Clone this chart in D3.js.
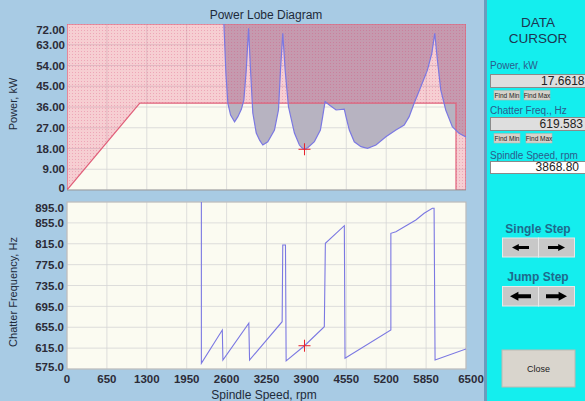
<!DOCTYPE html>
<html><head><meta charset="utf-8">
<script src="https://cdn.jsdelivr.net/npm/d3@7"></script>
<style>html,body{margin:0;padding:0;background:#a8cbe4;}svg{display:block;font-family:"Liberation Sans",Arial,sans-serif;}</style>
</head><body>
<svg id="c" width="585" height="401"></svg>
<script>
// ---- data ----
const rpmTicks = [0,650,1300,1950,2600,3250,3900,4550,5200,5850,6500];
const powerTicks = [0,9,18,27,36,45,54,63,72];
const powerTickLabels = ["0","9.00","18.00","27.00","36.00","45.00","54.00","63.00","72.00"];
const freqTicks = [575,615,655,695,735,775,815,855,895];
const freqTickLabels = ["575.0","615.0","655.0","695.0","735.0","775.0","815.0","855.0","895.0"];

const limitRpm = [0,1186,6337,6337];
const limitKw  = [0,37.7,37.7,0];

const lobeRpm = [2545,2556,2590,2621,2665,2730,2784,2840,2881,2920,2958,2990,3027,3083,3140,3190,3271,3380,3445,3478,3515,3554,3608,3705,3786,3830,3868.8,3921,4030,4128,4165,4204,4274,4383,4517,4545,4599,4680,4789,4896,5033,5195,5358,5493,5574,5655,5764,5871,5943,5991,6034,6089,6170,6277,6386,6500];
const lobeKw  = [80,72,50,37.6,32.5,29.6,31.8,35,39.0,52.0,70.1,52.0,33.4,24.7,21.5,19.5,20.9,26.0,34.7,52.0,68.0,52.0,36.1,24.7,19.5,18.2,17.66,18.3,21.0,26.0,31.8,38.3,36.9,34.7,35.1,31.8,26.0,20.9,18.8,18.1,19.5,23.1,26.0,28.2,31.8,37.6,44.8,52.0,59.3,68.0,56.4,43.4,34.7,27.5,24.6,23.0];

const freqRpm = [2189,2189,2530,2540,2962,2974,3505,3515,3559,3570,3868.8,4192,4209,4518,4529,5276,5276,5358,5683,5818,5952,5980,5996,6500];
const freqHz  = [960,585.9,649.7,592.2,662.6,592.2,665.6,812.6,812.6,590.5,619.6,656,815.8,849.6,595.5,649.7,835,838,860.5,873.3,882.9,882.9,592.2,613.5];

const cursorRpm = 3868.8, cursorKw = 17.6618, cursorHz = 619.583;
const panelValues = ["17.6618","619.583","3868.80"];

// ---- layout ----
const svg = d3.select("#c");
const X0=67, X1=466;
const T={top:24,bottom:190}, B={top:202,bottom:369};
const x = d3.scaleLinear().domain([0,6500]).range([X0,X1]);
const yP = d3.scaleLinear().domain([0,72]).range([T.bottom,T.top]);
const yF = d3.scaleLinear().domain([575,895]).range([B.bottom,B.top]);

svg.append("rect").attr("width",585).attr("height",401).attr("fill","#a8cbe4");

const defs = svg.append("defs");
const pat = defs.append("pattern").attr("id","dots").attr("width",3).attr("height",3).attr("patternUnits","userSpaceOnUse");
pat.append("rect").attr("width",1).attr("height",1).attr("fill","rgba(215,60,110,0.28)");
defs.append("clipPath").attr("id","clipT").append("rect").attr("x",X0).attr("y",T.top).attr("width",X1-X0).attr("height",T.bottom-T.top);
defs.append("clipPath").attr("id","clipB").append("rect").attr("x",X0).attr("y",B.top).attr("width",X1-X0).attr("height",B.bottom-B.top);

// ---- top plot ----
const gT = svg.append("g").attr("clip-path","url(#clipT)");
gT.append("rect").attr("x",X0).attr("y",T.top).attr("width",X1-X0).attr("height",T.bottom-T.top).attr("fill","#fbfbf1");
gT.selectAll(".vg").data(rpmTicks).join("line").attr("x1",d=>x(d)).attr("x2",d=>x(d)).attr("y1",T.top).attr("y2",T.bottom).attr("stroke","#d6d6d6").attr("stroke-width",0.8);
gT.selectAll(".hg").data(powerTicks).join("line").attr("x1",X0).attr("x2",X1).attr("y1",d=>yP(d)).attr("y2",d=>yP(d)).attr("stroke","#d6d6d6").attr("stroke-width",0.8);

const lobe = lobeRpm.map((r,i)=>[r,lobeKw[i]]);
const area = d3.area().x(d=>x(d[0])).y0(yP(80)).y1(d=>yP(d[1]));
gT.append("path").datum(lobe).attr("d",area).attr("fill","#b7b3c1");

const limit = limitRpm.map((r,i)=>[r,limitKw[i]]);
const pinkPoly = limit.concat([[6500,0],[6500,72],[0,72]]);
const lineP = d3.line().x(d=>x(d[0])).y(d=>yP(d[1]));
gT.append("path").attr("d",lineP(pinkPoly)+"Z").attr("fill","rgba(235,90,130,0.28)");
gT.append("path").attr("d",lineP(pinkPoly)+"Z").attr("fill","url(#dots)");
gT.append("path").attr("d",lineP(pinkPoly)+"Z").attr("fill","none").attr("stroke","#e0607a").attr("stroke-width",1.2);
gT.append("path").datum(lobe).attr("d",lineP).attr("fill","none").attr("stroke","#7b78e2").attr("stroke-width",1.2);
svg.append("line").attr("x1",X0).attr("x2",X1).attr("y1",T.bottom).attr("y2",T.bottom).attr("stroke","#9a9a9a");

function cross(g,cx,cy){
  g.append("line").attr("x1",cx-6).attr("x2",cx+6).attr("y1",cy).attr("y2",cy).attr("stroke","#e8202c").attr("stroke-width",1);
  g.append("line").attr("x1",cx).attr("x2",cx).attr("y1",cy-6).attr("y2",cy+6).attr("stroke","#e8202c").attr("stroke-width",1);
}
cross(svg,x(cursorRpm),yP(cursorKw));

// ---- bottom plot ----
const gB = svg.append("g");
gB.append("rect").attr("x",X0).attr("y",B.top).attr("width",X1-X0).attr("height",B.bottom-B.top).attr("fill","#fbfbf1");
gB.selectAll(".vg").data(rpmTicks).join("line").attr("x1",d=>x(d)).attr("x2",d=>x(d)).attr("y1",B.top).attr("y2",B.bottom).attr("stroke","#d6d6d6").attr("stroke-width",0.8);
gB.selectAll(".hg").data(freqTicks).join("line").attr("x1",X0).attr("x2",X1).attr("y1",d=>yF(d)).attr("y2",d=>yF(d)).attr("stroke","#d6d6d6").attr("stroke-width",0.8);
gB.append("rect").attr("x",X0).attr("y",B.top).attr("width",X1-X0).attr("height",B.bottom-B.top).attr("fill","none").attr("stroke","#b0b0b0").attr("stroke-width",0.8);
const freq = freqRpm.map((r,i)=>[r,freqHz[i]]);
const lineF = d3.line().x(d=>x(d[0])).y(d=>yF(d[1]));
gB.append("path").datum(freq).attr("clip-path","url(#clipB)").attr("d",lineF).attr("fill","none").attr("stroke","#7b78e2").attr("stroke-width",1.1);
cross(svg,x(cursorRpm),yF(cursorHz));

// ---- axes text ----
const tickStyle = s=>s.attr("font-size","11.5px").attr("font-weight","bold").attr("fill","#2c2c38");
function clampY(y,top,bot){return Math.min(Math.max(y,top+6),bot-2);}
svg.selectAll(".pt").data(powerTicks).join("text").attr("x",65).attr("y",d=>clampY(yP(d),T.top,T.bottom)).attr("dy","0.36em").attr("text-anchor","end").text((d,i)=>powerTickLabels[i]).call(tickStyle);
svg.selectAll(".ft").data(freqTicks).join("text").attr("x",64).attr("y",d=>clampY(yF(d),B.top,B.bottom)).attr("dy","0.36em").attr("text-anchor","end").text((d,i)=>freqTickLabels[i]).call(tickStyle);
svg.selectAll(".xt").data(rpmTicks).join("text").attr("x",d=>x(d)+(d===6500?5:0)).attr("y",383).attr("text-anchor","middle").text(d=>d).call(tickStyle);

svg.append("text").attr("x",266).attr("y",19).attr("text-anchor","middle").attr("font-size","12px").attr("fill","#1e2a3a").text("Power Lobe Diagram");
svg.append("text").attr("x",264).attr("y",399).attr("text-anchor","middle").attr("font-size","12px").attr("fill","#1e2a3a").text("Spindle Speed, rpm");
svg.append("text").attr("transform","translate(17,104) rotate(-90)").attr("text-anchor","middle").attr("font-size","11px").attr("fill","#1e2a3a").text("Power, kW");
svg.append("text").attr("transform","translate(17,292) rotate(-90)").attr("text-anchor","middle").attr("font-size","11px").attr("fill","#1e2a3a").text("Chatter Frequency, Hz");

// ---- right panel ----
svg.append("rect").attr("x",484).attr("y",0).attr("width",3).attr("height",401).attr("fill","#6b9cbd");
svg.append("rect").attr("x",487).attr("y",0).attr("width",98).attr("height",401).attr("fill","#14eeee");
const P = svg.append("g");
P.append("text").attr("x",538).attr("y",27.3).attr("text-anchor","middle").attr("font-size","13.5px").attr("fill","#1d3552").text("DATA");
P.append("text").attr("x",538).attr("y",42.6).attr("text-anchor","middle").attr("font-size","13.5px").attr("fill","#1d3552").text("CURSOR");

const labels = [["Power, kW",69],["Chatter Freq., Hz",114],["Spindle Speed, rpm",159]];
labels.forEach(l=>P.append("text").attr("x",490).attr("y",l[1]).attr("font-size","10px").attr("fill","#2a5c8c").text(l[0]));

function box(y,h,fill,val,right){
  P.append("rect").attr("x",490.5).attr("y",y+0.5).attr("width",97).attr("height",h).attr("fill",fill).attr("stroke","#8a8a8a").attr("stroke-width",1);
  P.append("text").attr("x",right).attr("y",y+h-2).attr("text-anchor","end").attr("font-size","12px").attr("fill","#222").text(val);
}
box(74,13,"#dedede",panelValues[0],584.5);
box(117,13,"#dedede",panelValues[1],583);
box(161,12,"#ffffff",panelValues[2],579);

function smallBtn(x0,y0,w,h,label){
  P.append("rect").attr("x",x0).attr("y",y0).attr("width",w).attr("height",h).attr("fill","#d6d2ca").attr("stroke","#b8b4ac").attr("stroke-width",0.6);
  P.append("text").attr("x",x0+w/2).attr("y",y0+h-2.5).attr("text-anchor","middle").attr("font-size","6.5px").attr("fill","#222").text(label);
}
smallBtn(494,90.5,26,9.5,"Find Min"); smallBtn(524,90.5,26,9.5,"Find Max");
smallBtn(494,133.5,26,9.5,"Find Min"); smallBtn(526,133.5,26,9.5,"Find Max");

P.append("text").attr("x",538).attr("y",233).attr("text-anchor","middle").attr("font-size","12px").attr("font-weight","bold").attr("fill","#1e6a8c").text("Single Step");
P.append("text").attr("x",538).attr("y",281).attr("text-anchor","middle").attr("font-size","12px").attr("font-weight","bold").attr("fill","#1e6a8c").text("Jump Step");

function arrow(cx,cy,w,h,dir){
  const p=d3.path(); const hw=w/2, s=h*0.22, hl=w*0.4;
  const tip=cx+dir*hw, base=cx-dir*hw, neck=tip-dir*hl;
  p.moveTo(base,cy-s); p.lineTo(neck,cy-s); p.lineTo(neck,cy-h/2); p.lineTo(tip,cy); p.lineTo(neck,cy+h/2); p.lineTo(neck,cy+s); p.lineTo(base,cy+s); p.closePath();
  P.append("path").attr("d",p.toString()).attr("fill","#000");
}
function stepBtns(y0,h,aw,ah){
  [[502.5,-1],[538.5,1]].forEach(b=>{
    P.append("rect").attr("x",b[0]).attr("y",y0).attr("width",36).attr("height",h).attr("fill","#c8c8c8").attr("stroke","#e8e8e8").attr("stroke-width",1);
    arrow(b[0]+18,y0+h/2,aw,ah,b[1]);
  });
}
stepBtns(238,19,17,7);
stepBtns(286.5,19.5,21,9);

P.append("rect").attr("x",502).attr("y",350).attr("width",73).attr("height",37).attr("fill","#d9d5cd").attr("stroke","#bdb9b1").attr("stroke-width",1);
P.append("text").attr("x",538.5).attr("y",372).attr("text-anchor","middle").attr("font-size","9px").attr("fill","#222").text("Close");
</script>
</body></html>
